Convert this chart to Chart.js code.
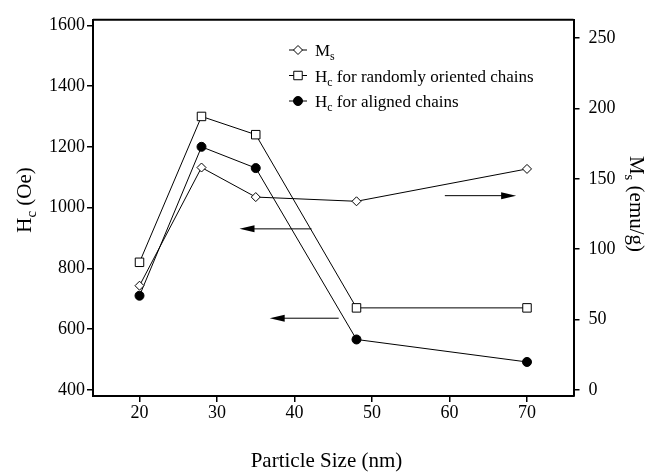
<!DOCTYPE html>
<html>
<head>
<meta charset="utf-8">
<script src="https://cdn.jsdelivr.net/npm/chart.js@4.4.0/dist/chart.umd.min.js"></script>
<style>
  html, body { margin: 0; padding: 0; background: #fff; }
  canvas { display: block; }
</style>
</head>
<body>
<canvas id="chart" width="649" height="473"></canvas>
<script>
// -------- DATA --------
const particleSizes = [20, 28, 35, 48, 70];
const msValues = [74, 158, 137, 134, 157];      // emu/g (right axis)
const hcRandom = [820, 1300, 1240, 670, 670];   // Oe (left axis)
const hcAligned = [710, 1200, 1130, 566, 492];  // Oe (left axis)

const xTicks = [20, 30, 40, 50, 60, 70];
const hcTicks = [400, 600, 800, 1000, 1200, 1400, 1600];
const msTicks = [0, 50, 100, 150, 200, 250];

// arrows showing which axis a curve belongs to (data units)
const arrowAxis = ["y", "y", "y1"];
const arrowLevel = [930, 636, 138];
const arrowFrom = [42.2, 45.7, 59.4];
const arrowTo = [32.9, 36.8, 68.6];

// legend / titles, [text, isSubscript]
const legendTexts = [
  [["M"], ["s", 1]],
  [["H"], ["c", 1], [" for randomly oriented chains"]],
  [["H"], ["c", 1], [" for aligned chains"]]
];
const xTitle = [["Particle Size (nm)"]];
const yTitle = [["H"], ["c", 1], [" (Oe)"]];
const y1Title = [["M"], ["s", 1], [" (emu/g)"]];

// -------- HELPERS --------
const SERIF = '"Liberation Serif", "Times New Roman", serif';

function richWidth(ctx, parts, size) {
  let w = 0;
  parts.forEach(p => {
    ctx.font = (p[1] ? size * 0.7 : size) + "px " + SERIF;
    w += ctx.measureText(p[0]).width;
  });
  return w;
}

function drawRich(ctx, parts, x, y, size, align) {
  let cx = align === "center" ? x - richWidth(ctx, parts, size) / 2 : x;
  ctx.textAlign = "left";
  ctx.textBaseline = "alphabetic";
  parts.forEach(p => {
    const s = p[1] ? size * 0.7 : size;
    ctx.font = s + "px " + SERIF;
    ctx.fillText(p[0], cx, p[1] ? y + size * 0.25 : y);
    cx += ctx.measureText(p[0]).width;
  });
}

const decorPlugin = {
  id: "decor",
  afterDraw(chart) {
    const ctx = chart.ctx;
    const area = chart.chartArea;
    ctx.save();
    ctx.fillStyle = "#000";
    ctx.strokeStyle = "#000";

    // top frame line
    ctx.lineWidth = 2;
    ctx.beginPath();
    ctx.moveTo(area.left, area.top);
    ctx.lineTo(area.right, area.top);
    ctx.stroke();

    // arrows
    const xs = chart.scales.x;
    ctx.lineWidth = 1;
    arrowLevel.forEach((lv, i) => {
      const y = chart.scales[arrowAxis[i]].getPixelForValue(lv);
      const x0 = xs.getPixelForValue(arrowFrom[i]);
      const x1 = xs.getPixelForValue(arrowTo[i]);
      const dir = x1 > x0 ? 1 : -1;
      ctx.beginPath();
      ctx.moveTo(x0, y);
      ctx.lineTo(x1 - dir * 10, y);
      ctx.stroke();
      ctx.beginPath();
      ctx.moveTo(x1, y);
      ctx.lineTo(x1 - dir * 15, y - 3.5);
      ctx.lineTo(x1 - dir * 15, y + 3.5);
      ctx.closePath();
      ctx.fill();
    });

    // legend
    chart.data.datasets.forEach((ds, i) => {
      const y = 50 + i * 25.5;
      ctx.lineWidth = 1;
      ctx.beginPath();
      ctx.moveTo(289, y);
      ctx.lineTo(307, y);
      ctx.stroke();
      ctx.fillStyle = ds.pointBackgroundColor;
      ctx.lineWidth = ds.pointBorderWidth;
      Chart.helpers.drawPoint(ctx, {
        pointStyle: ds.pointStyle, radius: ds.pointRadius,
        borderWidth: ds.pointBorderWidth, rotation: 0
      }, 298, y);
      ctx.fillStyle = "#000";
      drawRich(ctx, legendTexts[i], 315, y + 6, 17, "left");
    });

    // axis titles
    drawRich(ctx, xTitle, 326.5, 466.5, 21, "center");

    ctx.save();
    ctx.translate(31, 200);
    ctx.rotate(-Math.PI / 2);
    drawRich(ctx, yTitle, 0, 0, 21, "center");
    ctx.restore();

    ctx.save();
    ctx.translate(630, 204);
    ctx.rotate(Math.PI / 2);
    drawRich(ctx, y1Title, 0, 0, 21, "center");
    ctx.restore();

    ctx.restore();
  }
};

// -------- CHART --------
function series(values) {
  return particleSizes.map((x, i) => ({ x: x, y: values[i] }));
}

const tickFont = { family: SERIF, size: 18 };
const plainLabel = v => String(v);
const gridStyle = { drawOnChartArea: false, drawTicks: true, tickLength: 6, color: "#000", lineWidth: 1.5 };
const borderStyle = { display: true, color: "#000", width: 2 };

new Chart(document.getElementById("chart"), {
  type: "line",
  data: {
    datasets: [
      {
        label: "Ms", data: series(msValues), yAxisID: "y1",
        borderColor: "#000", borderWidth: 1,
        pointStyle: "rectRot", pointRadius: 4.5,
        pointBackgroundColor: "#fff", pointBorderColor: "#000", pointBorderWidth: 1
      },
      {
        label: "Hc random", data: series(hcRandom), yAxisID: "y",
        borderColor: "#000", borderWidth: 1,
        pointStyle: "rect", pointRadius: 6,
        pointBackgroundColor: "#fff", pointBorderColor: "#000", pointBorderWidth: 1
      },
      {
        label: "Hc aligned", data: series(hcAligned), yAxisID: "y",
        borderColor: "#000", borderWidth: 1,
        pointStyle: "circle", pointRadius: 4.5,
        pointBackgroundColor: "#000", pointBorderColor: "#000", pointBorderWidth: 1
      }
    ]
  },
  options: {
    responsive: false,
    animation: false,
    layout: { padding: { top: 11, left: 0, right: 0, bottom: 0 } },
    plugins: { legend: { display: false }, tooltip: { enabled: false } },
    scales: {
      x: {
        type: "linear", min: 14, max: 76,
        afterBuildTicks: s => { s.ticks = xTicks.map(v => ({ value: v })); },
        afterFit: s => { s.height = 77; },
        ticks: { font: tickFont, color: "#000", padding: 0, callback: plainLabel },
        grid: gridStyle, border: borderStyle
      },
      y: {
        type: "linear", position: "left", min: 380, max: 1618,
        afterBuildTicks: s => { s.ticks = hcTicks.map(v => ({ value: v })); },
        afterFit: s => { s.width = 93; },
        ticks: { font: tickFont, color: "#000", padding: 2, callback: plainLabel },
        grid: gridStyle, border: borderStyle
      },
      y1: {
        type: "linear", position: "right", min: -4.4, max: 263,
        afterBuildTicks: s => { s.ticks = msTicks.map(v => ({ value: v })); },
        afterFit: s => { s.width = 75.5; },
        ticks: { font: tickFont, color: "#000", padding: 9, callback: plainLabel },
        grid: gridStyle, border: borderStyle
      }
    }
  },
  plugins: [decorPlugin]
});
</script>
</body>
</html>
